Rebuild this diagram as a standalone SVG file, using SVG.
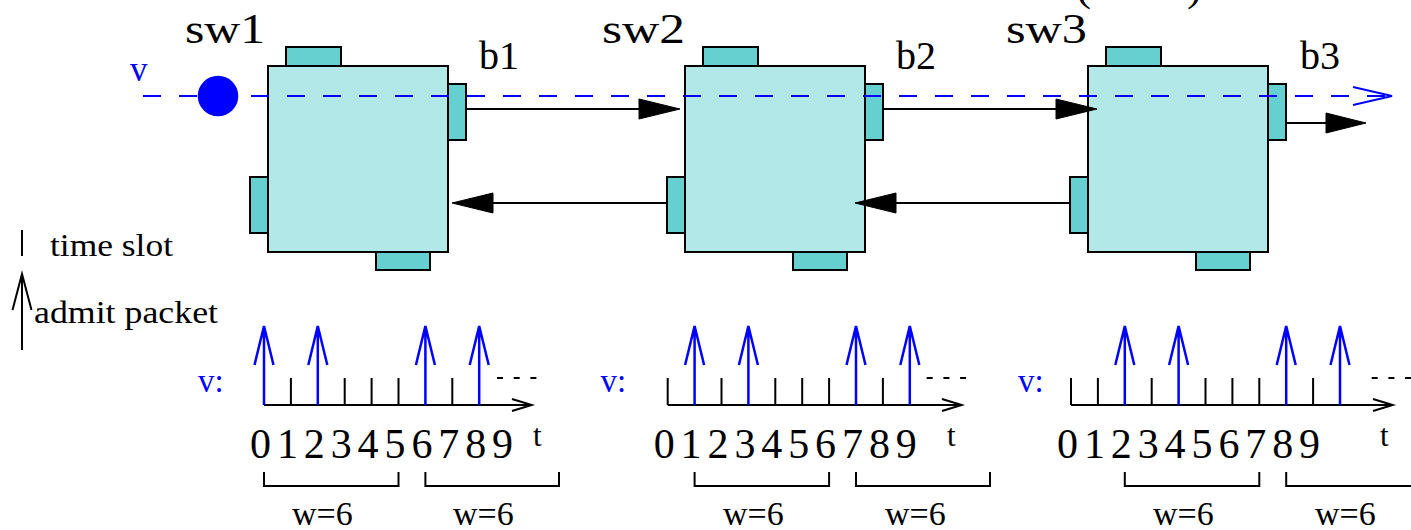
<svg xmlns="http://www.w3.org/2000/svg" width="1411" height="530" viewBox="0 0 1411 530">
<style>
.sw{fill:#b3e8e8;stroke:#000;stroke-width:2}
.port{fill:#66cfcf;stroke:#000;stroke-width:2}
.t{font-family:"Liberation Serif",serif;fill:#000}
.blue{fill:#0000ff}
.ln{stroke:#000;stroke-width:2;fill:none}
.bl{stroke:#0000ff;stroke-width:2.5;fill:none}
.head{fill:#000;stroke:#000;stroke-width:1}
.dots{stroke:#000;stroke-width:2;stroke-dasharray:6 10.7;fill:none}
</style>
<rect width="1411" height="530" fill="#fff"/>
<text class="t" font-size="45"><tspan x="1076" y="0">(</tspan><tspan x="1187" y="0">)</tspan></text>

<g id="sw1">
<rect class="sw" x="268" y="66" width="180" height="186"/>
<rect class="port" x="286" y="47" width="55" height="19"/>
<rect class="port" x="448" y="84" width="18" height="56"/>
<rect class="port" x="250" y="177" width="18" height="56"/>
<rect class="port" x="376" y="252" width="54" height="18"/>
<text class="t" x="185" y="43" font-size="43" textLength="80" lengthAdjust="spacingAndGlyphs">sw1</text>
<text class="t" x="479" y="69" font-size="40">b1</text>
</g>
<g id="sw2">
<rect class="sw" x="685" y="66" width="180" height="186"/>
<rect class="port" x="703" y="47" width="55" height="19"/>
<rect class="port" x="865" y="84" width="18" height="56"/>
<rect class="port" x="667" y="177" width="18" height="56"/>
<rect class="port" x="793" y="252" width="54" height="18"/>
<text class="t" x="602" y="43" font-size="43" textLength="83" lengthAdjust="spacingAndGlyphs">sw2</text>
<text class="t" x="896" y="69" font-size="40">b2</text>
</g>
<g id="sw3">
<rect class="sw" x="1088" y="66" width="180" height="186"/>
<rect class="port" x="1106" y="47" width="55" height="19"/>
<rect class="port" x="1268" y="84" width="18" height="56"/>
<rect class="port" x="1070" y="177" width="18" height="56"/>
<rect class="port" x="1196" y="252" width="54" height="18"/>
<text class="t" x="1006" y="43" font-size="43" textLength="81" lengthAdjust="spacingAndGlyphs">sw3</text>
<text class="t" x="1300" y="69" font-size="40">b3</text>
</g>

<g id="connectors">
<line class="ln" x1="466" y1="109" x2="645" y2="109"/>
<polygon class="head" points="680,109 639,99 639,119"/>
<line class="ln" x1="883" y1="109" x2="1062" y2="109"/>
<polygon class="head" points="1097,109 1056,99 1056,119"/>
<line class="ln" x1="1287" y1="123" x2="1330" y2="123"/>
<polygon class="head" points="1366,123 1326,113 1326,133"/>
<line class="ln" x1="666" y1="203" x2="488" y2="203"/>
<polygon class="head" points="452,203 493,193 493,213"/>
<line class="ln" x1="1069" y1="203" x2="891" y2="203"/>
<polygon class="head" points="855,203 896,193 896,213"/>
</g>

<g id="flow-v">
<line x1="143" y1="96" x2="1390" y2="96" stroke="#0000ff" stroke-width="2" stroke-dasharray="18 18"/>
<polyline points="1353,87 1392,96 1353,105" fill="none" stroke="#0000ff" stroke-width="2"/>
<circle cx="218" cy="96" r="20.3" fill="#0000ff"/>
<text class="t blue" x="130" y="81" font-size="35">v</text>
</g>

<g id="legend">
<line class="ln" x1="22" y1="230" x2="22" y2="256"/>
<text class="t" x="50" y="256" font-size="32" textLength="123" lengthAdjust="spacingAndGlyphs">time slot</text>
<line class="ln" x1="22" y1="350" x2="22" y2="274"/>
<polyline class="ln" points="12.5,310 22,274 31.5,310"/>
<text class="t" x="34" y="323" font-size="32" textLength="184" lengthAdjust="spacingAndGlyphs">admit packet</text>
</g>

<g id="timeline1">
<text class="t blue" x="198" y="392" font-size="33">v:</text>
<path class="ln" d="M290.9 378v27M344.7 378v27M371.6 378v27M398.5 378v27M452.3 378v27"/>
<line class="ln" x1="264" y1="405" x2="530" y2="405"/>
<polyline class="ln" points="512,399 531.7,405 512,411"/>
<path class="bl" d="M264 405V326M254.5 365L264 326L273.5 365M317.8 405V326M308.3 365L317.8 326L327.3 365M425.4 405V326M415.9 365L425.4 326L434.9 365M479.2 405V326M469.7 365L479.2 326L488.7 365"/>
<line class="dots" x1="497" y1="378" x2="540" y2="378"/>
<text class="t" font-size="42" text-anchor="middle" y="458" x="260.5 287.4 314.3 341.2 368.1 395 421.9 448.8 475.7 502.6">0123456789</text>
<text class="t" x="533" y="446" font-size="31">t</text>
<path class="ln" d="M264 472V486H398.5V472M425.4 472V486H559V472"/>
<text class="t" x="292" y="525" font-size="34">w=6</text>
<text class="t" x="453" y="525" font-size="34">w=6</text>
</g>

<g id="timeline2">
<text class="t blue" x="600.5" y="392" font-size="33">v:</text>
<path class="ln" d="M667.7 378v27M721.5 378v27M775.3 378v27M802.2 378v27M829.1 378v27M882.9 378v27"/>
<line class="ln" x1="667.7" y1="405" x2="960" y2="405"/>
<polyline class="ln" points="942,399 961.7,405 942,411"/>
<path class="bl" d="M694.6 405V326M685.1 365L694.6 326L704.1 365M748.4 405V326M738.9 365L748.4 326L757.9 365M856 405V326M846.5 365L856 326L865.5 365M909.8 405V326M900.3 365L909.8 326L919.3 365"/>
<line class="dots" x1="926.7" y1="378" x2="970" y2="378"/>
<text class="t" font-size="42" text-anchor="middle" y="458" x="664.2 691.1 718 744.9 771.8 798.7 825.6 852.5 879.4 906.3">0123456789</text>
<text class="t" x="947" y="446" font-size="31">t</text>
<path class="ln" d="M694.6 472V486H829.1V472M856 472V486H990V472"/>
<text class="t" x="723" y="525" font-size="34">w=6</text>
<text class="t" x="885" y="525" font-size="34">w=6</text>
</g>

<g id="timeline3">
<text class="t blue" x="1018" y="392" font-size="33">v:</text>
<path class="ln" d="M1071 378v27M1097.9 378v27M1151.7 378v27M1205.5 378v27M1232.4 378v27M1259.3 378v27M1313.1 378v27"/>
<line class="ln" x1="1071" y1="405" x2="1391" y2="405"/>
<polyline class="ln" points="1373,399 1392.7,405 1373,411"/>
<path class="bl" d="M1124.8 405V326M1115.3 365L1124.8 326L1134.3 365M1178.6 405V326M1169.1 365L1178.6 326L1188.1 365M1286.2 405V326M1276.7 365L1286.2 326L1295.7 365M1340 405V326M1330.5 365L1340 326L1349.5 365"/>
<line class="dots" x1="1371.7" y1="378" x2="1420" y2="378"/>
<text class="t" font-size="42" text-anchor="middle" y="458" x="1067.5 1094.4 1121.3 1148.2 1175.1 1202 1228.9 1255.8 1282.7 1309.6">0123456789</text>
<text class="t" x="1380" y="446" font-size="31">t</text>
<path class="ln" d="M1124.8 472V486H1259.3V472M1286.2 472V486H1421V472"/>
<text class="t" x="1153" y="525" font-size="34">w=6</text>
<text class="t" x="1315" y="525" font-size="34">w=6</text>
</g>
</svg>
